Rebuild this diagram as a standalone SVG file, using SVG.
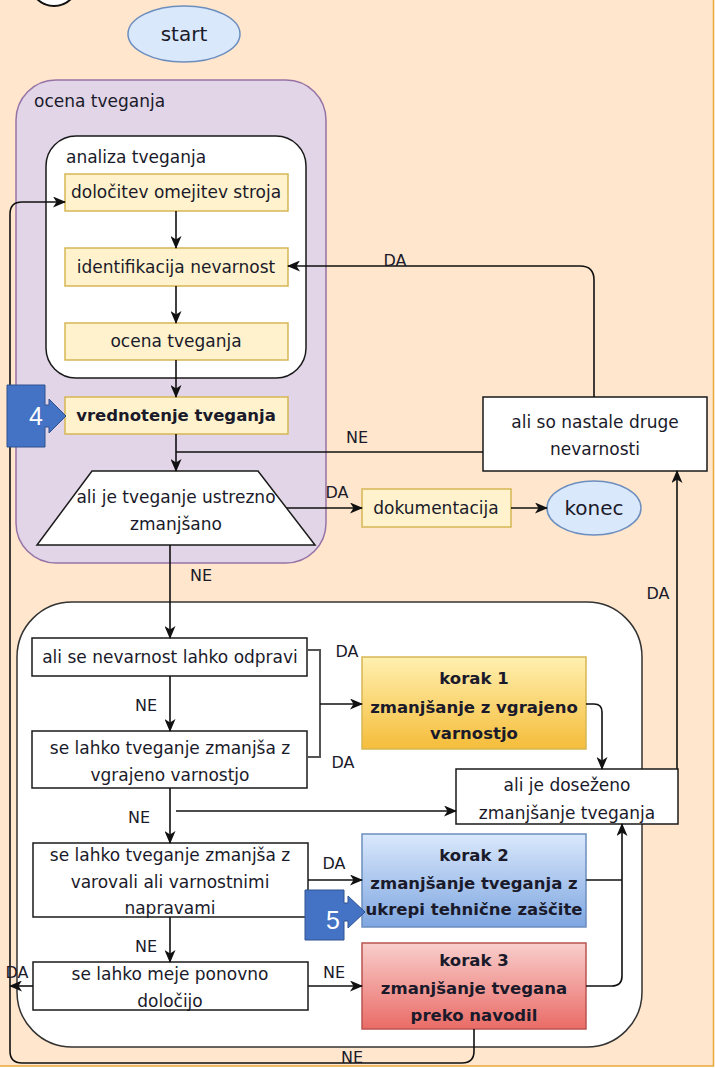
<svg xmlns="http://www.w3.org/2000/svg" width="715" height="1068" viewBox="0 0 715 1068">
<style>
text{font-family:"DejaVu Sans","Liberation Sans",sans-serif;font-size:17px;fill:#1a1a2a;text-anchor:middle}
.b{font-weight:bold;font-size:16.5px}
.lbl{font-size:16px}
.hd{text-anchor:start;font-size:17px}
.box{fill:#fff;stroke:#1a1a1a;stroke-width:1.5}
.yel{fill:#fff2cc;stroke:#d6b656;stroke-width:1.5}
.ell{fill:#dae8fc;stroke:#6c8ebf;stroke-width:1.5}
.c{fill:none;stroke:#111;stroke-width:1.6}
.callout{fill:#4472c4;stroke:#2f528f;stroke-width:1}
.num{font-family:"Liberation Sans","Open Sans",sans-serif;font-size:25px;fill:#fff}
</style>
<defs>
<marker id="ar" viewBox="0 0 13 11" refX="12" refY="5.5" markerWidth="13" markerHeight="11" markerUnits="userSpaceOnUse" orient="auto">
<path d="M0,0 L13,5.5 L0,11 L3.5,5.5 Z" fill="#111"/>
</marker>
<linearGradient id="g1" x1="0" y1="0" x2="0" y2="1"><stop offset="0" stop-color="#fff0b0"/><stop offset="1" stop-color="#f5bd3a"/></linearGradient>
<linearGradient id="g2" x1="0" y1="0" x2="0" y2="1"><stop offset="0" stop-color="#dae8fc"/><stop offset="1" stop-color="#7ea6e0"/></linearGradient>
<linearGradient id="g3" x1="0" y1="0" x2="0" y2="1"><stop offset="0" stop-color="#f8cecc"/><stop offset="1" stop-color="#ea6b66"/></linearGradient>
</defs>
<rect x="-2" y="-2" width="715.5" height="1068" fill="#ffe6cc" stroke="#eaa93a" stroke-width="1.5"/>
<circle cx="54" cy="-18" r="24" fill="#fff" stroke="#111" stroke-width="2"/>

<g id="start"><ellipse class="ell" cx="184" cy="34" rx="56" ry="28"/><text x="184" y="41" style="font-size:20px">start</text></g>

<g id="ocena-container"><rect x="16" y="80" width="310" height="483" rx="40" fill="#e1d5e7" stroke="#9673a6" stroke-width="1.5"/><text class="hd" x="34" y="107">ocena tveganja</text></g>
<g id="analiza-container"><rect class="box" x="46" y="136" width="260" height="242" rx="30"/><text class="hd" x="66" y="163">analiza tveganja</text></g>

<g id="lower-container"><rect x="17" y="602" width="625" height="445" rx="55" fill="#fff" stroke="#333" stroke-width="1.5"/></g>

<g id="dolocitev"><rect class="yel" x="65" y="174" width="223" height="37"/><text x="176" y="198">določitev omejitev stroja</text></g>
<g id="identifikacija"><rect class="yel" x="65" y="248" width="223" height="38"/><text x="176" y="273">identifikacija nevarnost</text></g>
<g id="ocena"><rect class="yel" x="65" y="323" width="223" height="37"/><text x="176" y="347">ocena tveganja</text></g>
<g id="vrednotenje"><rect class="yel" x="65" y="397" width="223" height="37"/><text class="b" x="176" y="421">vrednotenje tveganja</text></g>
<g id="trapez"><path class="box" d="M92,471 H258 L315,545 H37 Z"/><text x="176" y="503">ali je tveganje ustrezno</text><text x="176" y="530">zmanjšano</text></g>
<g id="dokumentacija"><rect class="yel" x="362" y="489" width="149" height="38"/><text x="436" y="514">dokumentacija</text></g>
<g id="konec"><ellipse class="ell" cx="594" cy="508" rx="47" ry="27"/><text x="594" y="515" style="font-size:20px">konec</text></g>
<g id="druge"><rect class="box" x="483" y="397" width="224" height="74"/><text x="595" y="428">ali so nastale druge</text><text x="595" y="455">nevarnosti</text></g>

<g id="odpravi"><rect class="box" x="32" y="638" width="275" height="38"/><text x="170" y="663">ali se nevarnost lahko odpravi</text></g>
<g id="vgrajeno"><rect class="box" x="32" y="731" width="275" height="57"/><text x="170" y="754">se lahko tveganje zmanjša z</text><text x="170" y="781">vgrajeno varnostjo</text></g>
<g id="varovala"><rect class="box" x="33" y="843" width="275" height="74"/><text x="170" y="861">se lahko tveganje zmanjša z</text><text x="170" y="888">varovali ali varnostnimi</text><text x="170" y="914">napravami</text></g>
<g id="meje"><rect class="box" x="33" y="962" width="275" height="48"/><text x="170" y="980">se lahko meje ponovno</text><text x="170" y="1007">določijo</text></g>

<g id="korak1"><rect x="362" y="657" width="224" height="92" fill="url(#g1)" stroke="#d6b656" stroke-width="1.5"/><text class="b" x="474" y="684">korak 1</text><text class="b" x="474" y="713">zmanjšanje z vgrajeno</text><text class="b" x="474" y="739">varnostjo</text></g>
<g id="korak2"><rect x="362" y="834" width="224" height="93" fill="url(#g2)" stroke="#6c8ebf" stroke-width="1.5"/><text class="b" x="474" y="861">korak 2</text><text class="b" x="474" y="889">zmanjšanje tveganja z</text><text class="b" x="474" y="915">ukrepi tehnične zaščite</text></g>
<g id="korak3"><rect x="362" y="943" width="224" height="86" fill="url(#g3)" stroke="#b85450" stroke-width="1.5"/><text class="b" x="474" y="966">korak 3</text><text class="b" x="474" y="994">zmanjšanje tvegana</text><text class="b" x="474" y="1021">preko navodil</text></g>
<g id="dosezeno"><rect class="box" x="456" y="769" width="222" height="55"/><text x="567" y="791">ali je doseženo</text><text x="567" y="819">zmanjšanje tveganja</text></g>

<g id="connectors">
<path class="c" d="M176,211 V248" marker-end="url(#ar)"/>
<path class="c" d="M176,286 V323" marker-end="url(#ar)"/>
<path class="c" d="M176,360 V397" marker-end="url(#ar)"/>
<path class="c" d="M176,434 V471" marker-end="url(#ar)"/>
<path class="c" d="M483,452 H176"/>
<path class="c" d="M594,397 V280 Q594,266 580,266 H288" marker-end="url(#ar)"/>
<path class="c" d="M287,508 H362" marker-end="url(#ar)"/>
<path class="c" d="M511,508 H547" marker-end="url(#ar)"/>
<path class="c" d="M170,545 V638" marker-end="url(#ar)"/>
<path class="c" d="M170,676 V731" marker-end="url(#ar)"/>
<path d="M307,650 H320 V757 H307" fill="none" stroke="#555" stroke-width="2"/>
<path class="c" d="M320,704 H362" marker-end="url(#ar)"/>
<path class="c" d="M586,704 H594 Q602,704 602,712 V769" marker-end="url(#ar)"/>
<path class="c" d="M170,788 V843" marker-end="url(#ar)"/>
<path class="c" d="M176,811 H456" marker-end="url(#ar)"/>
<path class="c" d="M308,880 H362" marker-end="url(#ar)"/>
<path class="c" d="M170,917 V962" marker-end="url(#ar)"/>
<path class="c" d="M33,986 H10" marker-end="url(#ar)"/>
<path class="c" d="M308,986 H362" marker-end="url(#ar)"/>
<path class="c" d="M586,880 H622"/>
<path class="c" d="M586,986 H612 Q622,986 622,976 V824" marker-end="url(#ar)"/>
<path class="c" d="M677,769 V471" marker-end="url(#ar)"/>
<path class="c" d="M474,1029 V1051 Q474,1063 462,1063 H22 Q10,1063 10,1051 V214 Q10,202 22,202 H65" marker-end="url(#ar)"/>
<g class="labels">
<text class="lbl" x="395" y="266">DA</text>
<text class="lbl" x="357" y="443">NE</text>
<text class="lbl" x="337" y="498">DA</text>
<text class="lbl" x="201" y="581">NE</text>
<text class="lbl" x="658" y="599">DA</text>
<text class="lbl" x="347" y="657">DA</text>
<text class="lbl" x="146" y="711">NE</text>
<text class="lbl" x="343" y="768">DA</text>
<text class="lbl" x="139" y="823">NE</text>
<text class="lbl" x="334" y="869">DA</text>
<text class="lbl" x="146" y="952">NE</text>
<text class="lbl" x="17" y="978">DA</text>
<text class="lbl" x="334" y="978">NE</text>
<text class="lbl" x="352" y="1063">NE</text>
</g>
</g>

<g id="callout4"><path class="callout" d="M7,385 H45 V405 H49 V399 L66,416 L49,433 V427 H45 V447 H7 Z"/><text class="num" x="36" y="425">4</text></g>
<g id="callout5"><path class="callout" d="M305,890 H344 V903 H348 V896 L365,912 L348,928 V921 H344 V940 H305 Z"/><text class="num" x="333" y="929">5</text></g>
</svg>
